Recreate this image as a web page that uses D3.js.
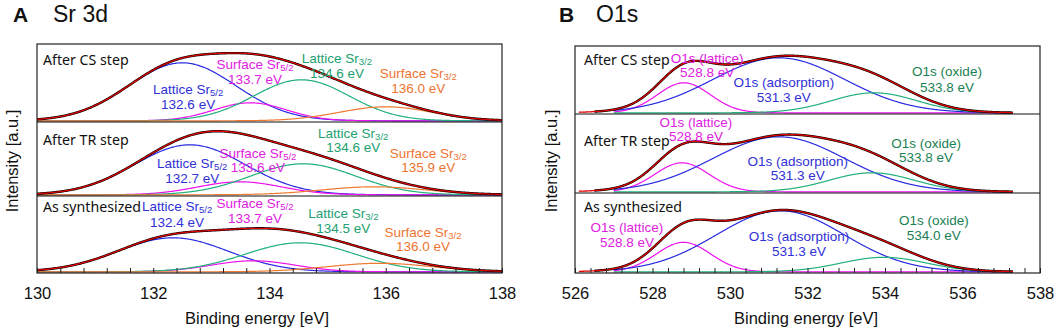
<!DOCTYPE html>
<html>
<head>
<meta charset="utf-8">
<script src="https://cdn.jsdelivr.net/npm/d3@7"></script>
<style>
  body { margin: 0; background: #fff; }
  svg { display: block; font-family: "Liberation Sans", Arial, sans-serif; }
</style>
</head>
<body>
<div id="chart"></div>
<script>
// ---- data ----
const panelNames = ["After CS step", "After TR step", "As synthesized"];

// Sr 3d fitted components (centre eV, height a.u., sigma eV), one row per panel
const srComponents = ["Lattice Sr|5/2", "Surface Sr|5/2", "Lattice Sr|3/2", "Surface Sr|3/2"];
const srCenters = [[132.5, 133.67, 134.55, 136.0], [132.63, 133.49, 134.58, 135.8], [132.34, 133.72, 134.53, 135.9]];
const srHeights = [[58, 18, 41, 14], [50, 13, 31, 8], [34, 11, 29, 8.5]];
const srSigmas = [[0.92, 0.62, 0.82, 0.8], [0.95, 0.72, 0.9, 0.9], [0.95, 0.72, 0.95, 0.9]];
const srPeakLabels = [["132.6 eV", "133.7 eV", "134.6 eV", "136.0  eV"],
                      ["132.7 eV", "133.6 eV", "134.6 eV", "135.9  eV"],
                      ["132.4 eV", "133.7 eV", "134.5 eV", "136.0  eV"]];
const srTicks = [130, 132, 134, 136, 138];

// O1s fitted components
const oComponents = ["O1s (lattice)", "O1s (adsorption)", "O1s (oxide)"];
const oCenters = [[528.81, 531.26, 533.72], [528.76, 531.26, 533.66], [528.8, 531.3, 533.97]];
const oHeights = [[30, 55, 20], [29, 55, 19], [29.5, 61, 14.5]];
const oSigmas = [[0.68, 1.7, 1.1], [0.7, 1.7, 1.1], [0.7, 1.65, 1.1]];
const oPeakLabels = [["528.8 eV", "531.3 eV", "533.8 eV"],
                     ["528.8 eV", "531.3 eV", "533.8 eV"],
                     ["528.8 eV", "531.3 eV", "534.0 eV"]];
const oTicks = [526, 528, 530, 532, 534, 536, 538];

// ---- layout ----
const lineColors = { blue: "#2a2ae0", magenta: "#ee10ee", green: "#22b07c", orange: "#f07a32" };
const textColors = { blue: "#3030d6", magenta: "#e020e0", green: "#22a070", orange: "#ee7432" };

const svg = d3.select("#chart").append("svg").attr("width", 1059).attr("height", 334);

function gauss(e, c, h, s) { return h * Math.exp(-((e - c) * (e - c)) / (2 * s * s)); }

function drawChart(cfg) {
    const x = d3.scaleLinear().domain(cfg.domain).range([cfg.x0, cfg.x1]);
    const g = svg.append("g");

    cfg.panels.forEach((p, i) => {
        const [top, bottom] = p;
        const base = bottom - 1.2;
        const y = d3.scaleLinear().domain([0, 80]).range([base, base - 80]);
        const line = d3.line().x(d => x(d[0])).y(d => y(d[1])).curve(d3.curveBasis);
        const comps = cfg.centers[i].map((c, k) => ({ c, h: cfg.heights[i][k], s: cfg.sigmas[i][k] }));

        // components
        comps.forEach((cp, k) => {
            const pts = d3.range(cfg.compRange[0], cfg.compRange[1] + 1e-9, 0.02).map(e => [e, gauss(e, cp.c, cp.h, cp.s)]);
            g.append("path").attr("d", line(pts)).attr("fill", "none")
                .attr("stroke", lineColors[cfg.colors[k]]).attr("stroke-width", 1.2);
        });

        // measured (black) and fitted envelope (red)
        const env = r => d3.range(r[0], r[1] + 1e-9, 0.02).map(e => [e, d3.sum(comps, cp => gauss(e, cp.c, cp.h, cp.s))]);
        g.append("path").attr("d", line(env(cfg.dataRange))).attr("fill", "none")
            .attr("stroke", "#000").attr("stroke-width", 2.4);
        g.append("path").attr("d", line(env(cfg.fitRange))).attr("fill", "none")
            .attr("stroke", "#e00000").attr("stroke-width", 1.3);

        // panel name
        g.append("text").attr("x", cfg.x0 + cfg.nameDx).attr("y", top + cfg.nameDy[i] + 5)
            .style("font-family", "'Noto Sans', 'Open Sans', sans-serif").style("font-size", "14.2px")
            .attr("fill", "#111").text(panelNames[i]);

        // peak annotations
        cfg.components.forEach((name, k) => {
            const pos = cfg.labelPos[i][k];
            const col = textColors[cfg.colors[k]];
            const tcol = cfg.textOverride && cfg.textOverride[k] ? cfg.textOverride[k] : col;
            const parts = name.split("|");
            const t1 = g.append("text").attr("x", x(pos[0])).attr("y", top + pos[1] + 4.5)
                .attr("text-anchor", "middle").attr("fill", tcol).style("font-size", "13.5px");
            t1.append("tspan").text(parts[0]);
            if (parts[1]) t1.append("tspan").attr("dy", 2.5).style("font-size", "9.5px").text(parts[1]);
            g.append("text").attr("x", x(pos[0])).attr("y", top + pos[2] + 4.5)
                .attr("text-anchor", "middle").attr("fill", tcol).style("font-size", "13.5px")
                .text(cfg.peakLabels[i][k]);
        });

        if (i > 0) {
            g.append("line").attr("x1", cfg.x0).attr("x2", cfg.x1).attr("y1", top).attr("y2", top)
                .attr("stroke", "#111").attr("stroke-width", 1.2);
        }
    });

    const top = cfg.panels[0][0], bottom = cfg.panels[2][1];
    g.append("rect").attr("x", cfg.x0).attr("y", top).attr("width", cfg.x1 - cfg.x0).attr("height", bottom - top)
        .attr("fill", "none").attr("stroke", "#222").attr("stroke-width", 1.2);

    // minor ticks (inward) every 0.4 eV
    const minor = d3.range(cfg.domain[0], cfg.domain[1] + 1e-6, 0.4);
    const minorAxis = g.append("g").attr("transform", `translate(0,${bottom})`)
        .call(d3.axisBottom(x).tickValues(minor).tickSize(-5).tickFormat(""));
    minorAxis.select(".domain").remove();
    minorAxis.selectAll(".tick line").attr("stroke", "#222");

    const majorAxis = g.append("g").attr("transform", `translate(0,${bottom})`)
        .call(d3.axisBottom(x).tickValues(cfg.ticks).tickSize(0).tickPadding(14).tickFormat(d3.format("d")));
    majorAxis.select(".domain").remove();
    majorAxis.selectAll("text").attr("fill", "#111").style("font-size", "16.5px")
        .style("font-family", "'Liberation Sans', Arial, sans-serif");

    // axis titles
    g.append("text").attr("x", cfg.xTitleX).attr("y", 323.5).attr("text-anchor", "middle")
        .style("font-size", "16.5px").attr("fill", "#111").text("Binding energy [eV]");
    g.append("text").attr("transform", `translate(${cfg.yTitleX},161) rotate(-90)`)
        .attr("text-anchor", "middle").style("font-size", "16.5px").attr("fill", "#111").text("Intensity [a.u.]");

    // panel letter and title
    g.append("text").attr("x", cfg.letterX).attr("y", 22).style("font-size", "21px")
        .style("font-weight", "bold").attr("fill", "#111").text(cfg.letter);
    g.append("text").attr("x", cfg.titleX).attr("y", 22).style("font-size", "23px")
        .attr("fill", "#111").text(cfg.title);
}

drawChart({
    letter: "A", title: "Sr 3d", letterX: 13, titleX: 53,
    domain: [130, 138], x0: 37, x1: 502, ticks: srTicks,
    panels: [[44, 122], [122, 196], [196, 273]],
    centers: srCenters, heights: srHeights, sigmas: srSigmas,
    components: srComponents, peakLabels: srPeakLabels,
    colors: ["blue", "magenta", "green", "orange"],
    compRange: [130, 138], dataRange: [130, 138], fitRange: [130, 138],
    nameDx: 6, nameDy: [16, 18, 11],
    labelPos: [
        [[132.6, 45, 60], [133.75, 20, 35], [135.16, 14, 29], [136.56, 29, 44]],
        [[132.67, 41, 56], [133.8, 31, 45], [135.44, 11, 25], [136.73, 31, 45]],
        [[132.41, 10, 26], [133.75, 7, 22], [135.27, 17, 32], [136.64, 36, 50]]
    ],
    xTitleX: 257, yTitleX: 18
});

drawChart({
    letter: "B", title: "O1s", letterX: 559, titleX: 596,
    domain: [526, 538], x0: 575, x1: 1040, ticks: oTicks,
    panels: [[46, 114], [114, 193], [193, 273]],
    centers: oCenters, heights: oHeights, sigmas: oSigmas,
    components: oComponents, peakLabels: oPeakLabels,
    colors: ["magenta", "blue", "green"],
    textOverride: [null, null, "#1a7f55"],
    compRange: [527.0, 537.3], dataRange: [526.5, 537.3], fitRange: [526.1, 537.3],
    nameDx: 9, nameDy: [14, 27, 14],
    labelPos: [
        [[529.41, 12, 26], [531.39, 36, 51], [535.6, 25, 41]],
        [[529.12, 8, 22], [531.75, 47, 61], [535.06, 29, 43]],
        [[527.34, 34, 49], [531.78, 43, 58], [535.26, 27, 42]]
    ],
    xTitleX: 806, yTitleX: 557
});
</script>
</body>
</html>
